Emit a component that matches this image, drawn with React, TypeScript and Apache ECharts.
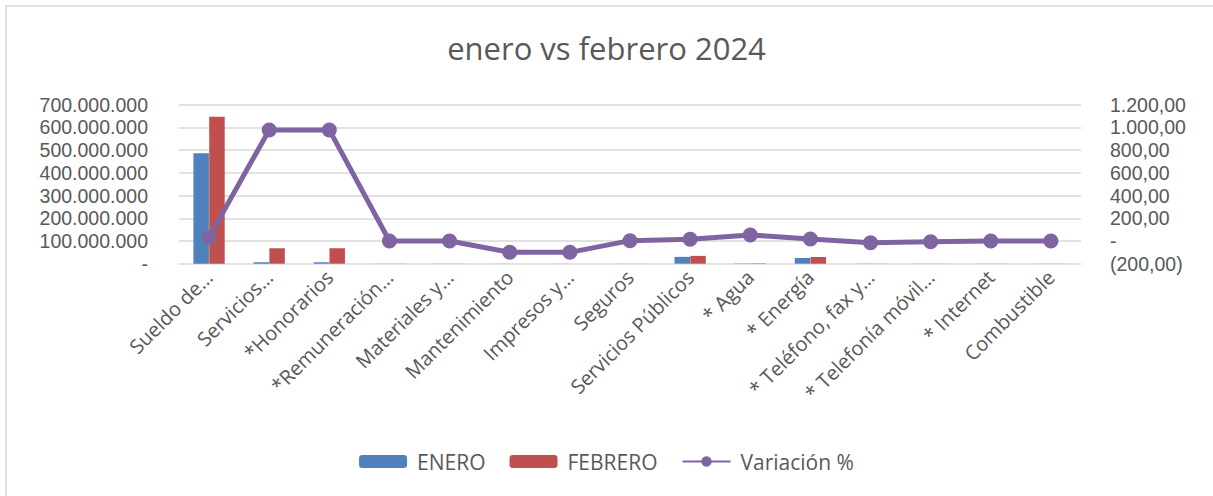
import React, { useEffect, useRef } from "react";
import * as echarts from "echarts";

const categories = [
  "Sueldo de…",
  "Servicios…",
  "*Honorarios",
  "*Remuneración…",
  "Materiales y…",
  "Mantenimiento",
  "Impresos y…",
  "Seguros",
  "Servicios Públicos",
  "* Agua",
  "* Energía",
  "* Teléfono, fax y…",
  "* Telefonía móvil…",
  "* Internet",
  "Combustible",
];

const enero = [486000000, 6300000, 6300000, 500000, 400000, 300000, 300000, 200000, 30000000, 1200000, 25000000, 600000, 500000, 400000, 300000];
const febrero = [647000000, 68000000, 68000000, 500000, 400000, 0, 0, 200000, 34500000, 1800000, 29500000, 500000, 470000, 400000, 300000];
const variacion = [33, 978, 978, 0, 0, -100, -100, 3, 15, 53, 18, -15, -6, 0, 0];

const leftTicks = { min: 0, max: 700000000, interval: 100000000 };
const rightTicks = { min: -200, max: 1200, interval: 200 };

const FONT = "'Open Sans', sans-serif";
const AXFONT = "'Liberation Sans', 'Open Sans', sans-serif";
const TEXT = "#595959";

function fmtLeft(v: number): string {
  if (v === 0) return "-";
  return Math.round(v).toString().replace(/\B(?=(\d{3})+(?!\d))/g, ".");
}

function fmtRight(v: number): string {
  if (v === 0) return "-";
  const a = Math.abs(v);
  const s = a.toFixed(2).replace(".", ",");
  const [i, d] = s.split(",");
  const withDots = i.replace(/\B(?=(\d{3})+(?!\d))/g, ".") + "," + d;
  return v < 0 ? "(" + withDots + ")" : withDots;
}

export default function App() {
  const ref = useRef<HTMLDivElement>(null);
  useEffect(() => {
    document.body.style.margin = "0";
    if (!ref.current) return;
    const chart = echarts.init(ref.current, null, { renderer: "svg" });
    chart.setOption({
      animation: false,
      backgroundColor: "#ffffff",
      title: {
        text: "enero vs febrero 2024",
        left: "center",
        top: 27,
        textStyle: { fontFamily: FONT, fontSize: 31, fontWeight: "normal", color: TEXT },
      },
      graphic: [
        {
          type: "rect",
          shape: { x: 6, y: 6, width: 1400, height: 700 },
          style: { fill: "none", stroke: "#d9d9d9", lineWidth: 1.5 },
          silent: true,
        },
      ],
      legend: {
        bottom: 19,
        left: "center",
        itemWidth: 48,
        itemHeight: 13,
        itemGap: 24,
        textStyle: { fontFamily: FONT, fontSize: 21, color: TEXT, padding: [0, 0, 0, 5] },
        data: ["ENERO", "FEBRERO", "Variación %"],
      },
      grid: { left: 179, right: 132, top: 104.7, bottom: 232.3 },
      xAxis: {
        type: "category",
        data: categories,
        axisLine: { show: false },
        axisTick: { show: false },
        axisLabel: {
          rotate: 45,
          interval: 0,
          margin: 10,
          fontFamily: FONT,
          fontSize: 20,
          color: TEXT,
        },
      },
      yAxis: [
        {
          type: "value",
          ...leftTicks,
          axisLine: { show: false },
          axisTick: { show: false },
          splitLine: { lineStyle: { color: "#d9d9d9", width: 1.5 } },
          axisLabel: {
            formatter: fmtLeft,
            margin: 31,
            fontFamily: AXFONT,
            fontSize: 19.5,
            lineHeight: 20,
            color: TEXT,
          },
        },
        {
          type: "value",
          ...rightTicks,
          axisLine: { show: false },
          axisTick: { show: false },
          splitLine: { show: false },
          axisLabel: {
            formatter: fmtRight,
            margin: 29,
            fontFamily: AXFONT,
            fontSize: 19.5,
            lineHeight: 20,
            color: TEXT,
          },
        },
      ],
      series: [
        {
          name: "ENERO",
          type: "bar",
          data: enero,
          itemStyle: { color: "#4f81bd" },
          barGap: "2%",
          barCategoryGap: "48%",
        },
        {
          name: "FEBRERO",
          type: "bar",
          data: febrero,
          itemStyle: { color: "#c0504d" },
        },
        {
          name: "Variación %",
          type: "line",
          yAxisIndex: 1,
          data: variacion,
          symbol: "circle",
          symbolSize: 15,
          lineStyle: { color: "#8064a2", width: 5 },
          itemStyle: { color: "#8064a2" },
        },
      ],
    });
    return () => chart.dispose();
  }, []);
  return <div ref={ref} style={{ width: 1213, height: 496 }} />;
}
